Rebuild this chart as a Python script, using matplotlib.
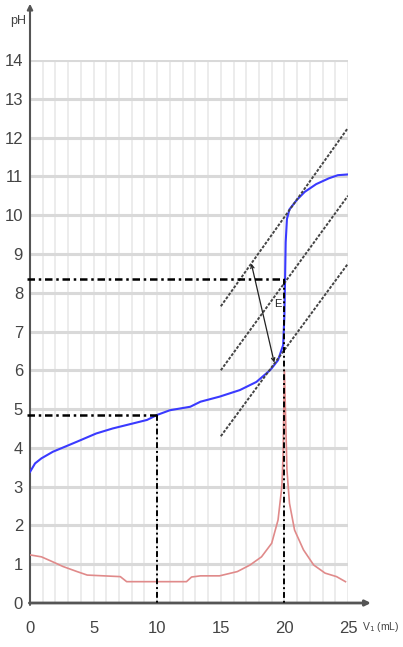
import matplotlib
matplotlib.use("Agg")
import matplotlib.pyplot as plt

plt.rcParams['font.family'] = ['Liberation Sans', 'DejaVu Sans']

# titration curve pH = f(V1)
vol = [0, 0.4, 0.9, 1.8, 2.9, 3.7, 5.2, 6.5, 8.1, 9.2, 10.0, 11.0, 12.6, 13.4,
       14.9, 16.5, 17.8, 18.9, 19.5, 19.9, 20.0, 20.05, 20.1, 20.2, 20.4,
       21.0, 21.6, 22.5, 23.5, 24.2, 25.0]
ph = [3.38, 3.60, 3.73, 3.90, 4.05, 4.16, 4.37, 4.50, 4.63, 4.72, 4.85, 4.97,
      5.06, 5.19, 5.32, 5.49, 5.70, 6.01, 6.26, 6.65, 7.40, 8.30, 9.30, 9.90,
      10.15, 10.40, 10.60, 10.80, 10.95, 11.03, 11.05]

# derivative dpH/dV
vol_d = [0, 0.9, 1.8, 2.6, 3.7, 4.5, 7.1, 7.6, 12.3, 12.7, 13.4, 14.9, 16.3,
         17.3, 18.2, 19.0, 19.5, 19.8, 19.9, 20.0, 20.2, 20.4, 20.8, 21.5,
         22.3, 23.2, 24.1, 24.8]
dph = [1.24, 1.19, 1.06, 0.94, 0.81, 0.72, 0.68, 0.55, 0.55, 0.67, 0.70, 0.70,
       0.81, 0.98, 1.19, 1.54, 2.14, 3.0, 3.86, 6.0, 3.43, 2.57, 1.88, 1.37,
       0.98, 0.77, 0.68, 0.55]

# parallel tangents (x0, y0, x1, y1)
tangents = [(15, 7.65, 25, 12.25), (15, 6.0, 25, 10.5), (15, 4.30, 25, 8.75)]

v_half, ph_half = 10, 4.85
v_eq, ph_eq = 20, 8.35

fig = plt.figure(figsize=(4.03, 6.47), dpi=100)
ax = fig.add_axes([30 / 403, 44 / 647, 318 / 403, 543 / 647])
ax.set_xlim(0, 25)
ax.set_ylim(0, 14)
for s in ax.spines.values():
    s.set_visible(False)

# grid
ax.vlines(range(1, 26), 0, 14, color='#ebebeb', lw=1.3, zorder=0)
ax.hlines(range(0, 15), 0, 25, color='#d9d9d9', lw=2.2, zorder=0)

# axes with arrows
ax.annotate('', xy=(0, 15.45), xytext=(0, -0.05), annotation_clip=False,
            arrowprops=dict(arrowstyle='-|>', color='#555555', lw=1.5,
                            mutation_scale=8, shrinkA=0, shrinkB=0))
ax.annotate('', xy=(26.8, 0), xytext=(-0.05, 0), annotation_clip=False,
            arrowprops=dict(arrowstyle='-|>', color='#555555', lw=2,
                            mutation_scale=8, shrinkA=0, shrinkB=0))

ax.set_xticks([0, 5, 10, 15, 20, 25])
ax.set_yticks(range(15))
ax.tick_params(length=0, labelsize=12, labelcolor='#444444')
ax.tick_params(axis='x', pad=13)
ax.tick_params(axis='y', pad=5)

ax.text(-0.95, 15.0, 'pH', fontsize=9, color='#444444', ha='center', va='center')
ax.text(29.05, -0.62, 'V$_1$ (mL)', fontsize=7.5, color='#444444',
        ha='right', va='center', clip_on=False)

# curves
ax.plot(vol_d, dph, color='#e08a8a', lw=1.2, zorder=3)
ax.plot(vol, ph, color='#3a3aff', lw=1.5, zorder=4)

# tangent construction
for x0, y0, x1, y1 in tangents:
    ax.plot([x0, x1], [y0, y1], color='#444444', lw=1.4,
            linestyle=(0, (1.5, 0.8)), zorder=5)
ax.annotate('', xy=(19.2, 6.2), xytext=(17.4, 8.75),
            arrowprops=dict(arrowstyle='<->', color='#222222', lw=0.9,
                            mutation_scale=6, shrinkA=0, shrinkB=0), zorder=6)
ax.text(19.5, 7.7, 'E', fontsize=8, color='#222222', ha='center', va='center')

# half-equivalence and equivalence readings
dd = (0, (3, 1.5, 1, 1.5))
ax.plot([-0.25, v_eq], [ph_eq, ph_eq], color='black', lw=1.8, linestyle=dd,
        zorder=6, clip_on=False)
ax.plot([v_eq, v_eq], [ph_eq, 0], color='black', lw=1.4, linestyle=dd, zorder=6)
ax.plot([-0.25, v_half], [ph_half, ph_half], color='black', lw=1.8, linestyle=dd,
        zorder=6, clip_on=False)
ax.plot([v_half, v_half], [ph_half, 0], color='black', lw=1.4, linestyle=dd, zorder=6)

fig.savefig('out.png', dpi=100)
